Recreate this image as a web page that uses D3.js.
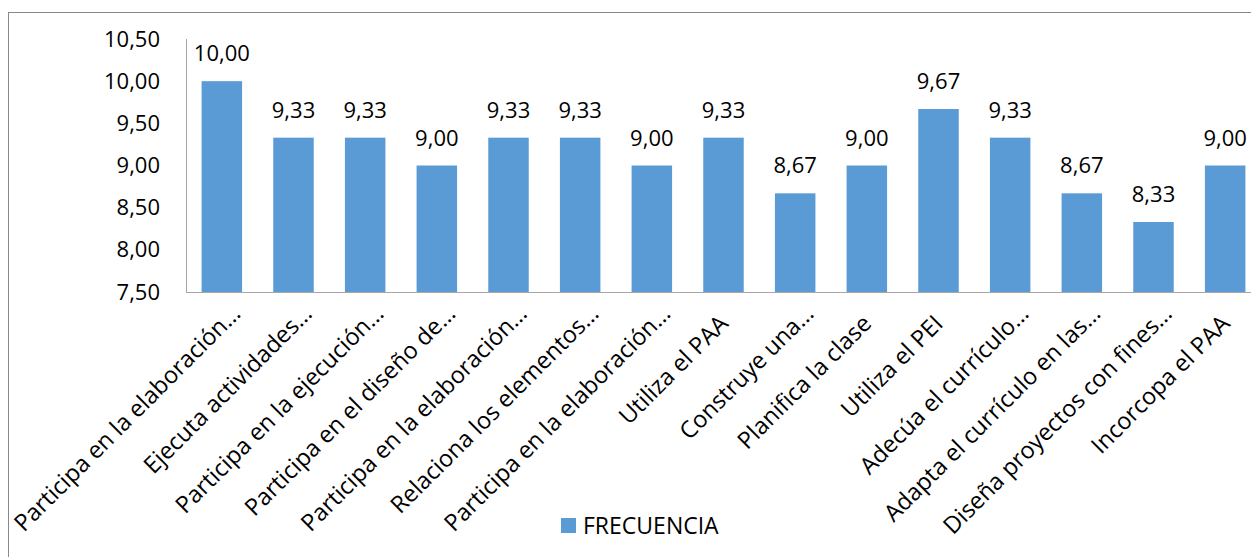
<!DOCTYPE html>
<html><head><meta charset="utf-8">
<script src="https://cdn.jsdelivr.net/npm/d3@7"></script>
<style>
html,body{margin:0;padding:0;background:#fff;overflow:hidden;}
text{font-family:"Open Sans",sans-serif;fill:#000;}
</style></head>
<body>
<svg id="chart" width="1251" height="557"></svg>
<script>
const categories = [
  "Participa en la elaboración…",
  "Ejecuta actividades…",
  "Participa en la ejecución…",
  "Participa en el diseño de…",
  "Participa en la elaboración…",
  "Relaciona los elementos…",
  "Participa en la elaboración…",
  "Utiliza el PAA",
  "Construye una…",
  "Planifica la clase",
  "Utiliza el PEI",
  "Adecúa el currículo…",
  "Adapta el currículo en las…",
  "Diseña proyectos con fines…",
  "Incorcopa el PAA"
];
const values = [10.00, 9.33, 9.33, 9.00, 9.33, 9.33, 9.00, 9.33, 8.67, 9.00, 9.67, 9.33, 8.67, 8.33, 9.00];
const yTicks = [7.5, 8.0, 8.5, 9.0, 9.5, 10.0, 10.5];
const seriesName = "FRECUENCIA";

const FONT = "Open Sans";
const FS = 22;
const FSX = 23.5;
const svg = d3.select("#chart");
const loc = d3.formatLocale({decimal:",", thousands:".", grouping:[3], currency:["","€"]});
const fmt = loc.format(".2f");

// chart border
svg.append("rect").attr("x",8.5).attr("y",12.5).attr("width",1270).attr("height",570)
  .attr("fill","none").attr("stroke","#898989").attr("stroke-width",1);

const plot = {left:186, top:39, bottom:292, right:1261};
const x = d3.scaleBand().domain(d3.range(categories.length)).range([plot.left, plot.right])
  .paddingInner(0.435).paddingOuter(0.2175);
const y = d3.scaleLinear().domain([7.5, 10.5]).range([plot.bottom, plot.top]);

// bars
svg.append("g").selectAll("rect").data(values).join("rect")
  .attr("x",(d,i)=>x(i)).attr("width",x.bandwidth())
  .attr("y",d=>y(d)).attr("height",d=>y(7.5)-y(d))
  .attr("fill","#5B9BD5");

// data labels
svg.append("g").selectAll("text").data(values).join("text")
  .attr("x",(d,i)=>x(i)+x.bandwidth()/2).attr("y",d=>y(d)-20)
  .attr("text-anchor","middle").attr("font-size",FS).text(d=>fmt(d));

// y axis
const ya = svg.append("g").attr("transform",`translate(${plot.left},0)`)
  .call(d3.axisLeft(y).tickValues(yTicks).tickFormat(fmt).tickSize(0).tickPadding(26));
ya.select(".domain").attr("stroke","#A6A6A6").attr("d",`M0.5,${plot.top}V${plot.bottom}`);
ya.selectAll("text").attr("font-size",FS).attr("font-family",FONT).attr("fill","#000");

// x axis
const xa = svg.append("g").attr("transform",`translate(0,${plot.bottom})`)
  .call(d3.axisBottom(x).tickFormat(i=>categories[i]).tickSize(0));
xa.select(".domain").attr("stroke","#A6A6A6").attr("d",`M${plot.left},0.5H1260`);
xa.selectAll(".tick text")
  .attr("font-size",FSX).attr("font-family",FONT).attr("fill","#000")
  .attr("text-anchor","end").attr("dy",0).attr("y",0)
  .attr("transform",i=>categories[i].endsWith("…") ? "translate(20,23) rotate(-45)" : "translate(6,33) rotate(-45)");

// legend
const lg = svg.append("g").attr("transform","translate(561,518)");
lg.append("rect").attr("width",15).attr("height",15).attr("fill","#5B9BD5");
lg.append("text").attr("x",22).attr("y",15.5).attr("font-size",23).text(seriesName);
</script>
</body></html>
